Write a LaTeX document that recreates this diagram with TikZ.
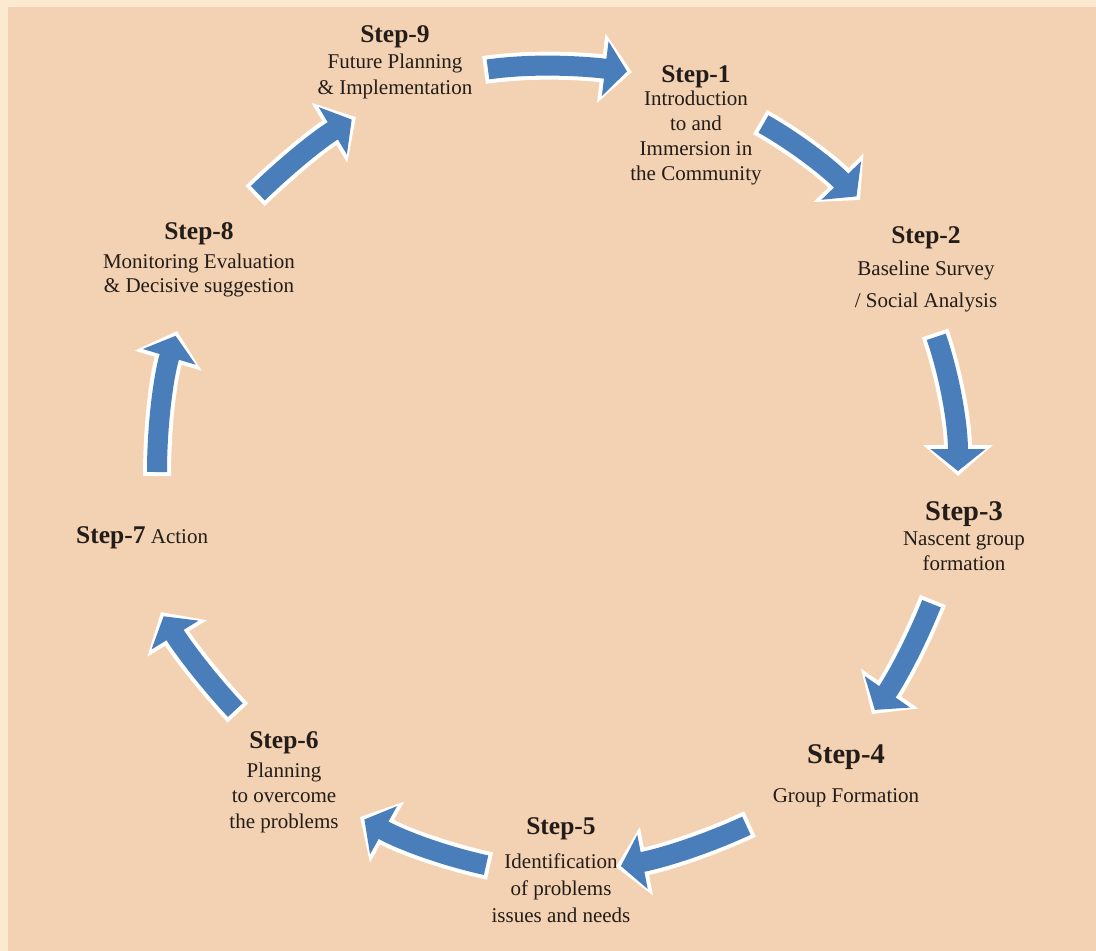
\documentclass[tikz,border=0pt]{standalone}
\usepackage{fontspec}
\setmainfont{Liberation Serif}
\usetikzlibrary{arrows.meta}
\definecolor{cream}{RGB}{251,234,208}
\definecolor{peach}{RGB}{242,210,178}
\definecolor{arrowblue}{RGB}{74,126,187}
\definecolor{ink}{RGB}{35,28,24}
\tikzset{
  steptext/.style={anchor=base, inner sep=0pt, text=ink},
  arrowback/.style={draw=white, line width=28pt, -{Triangle[length=31pt,width=68pt]}},
  arrowfront/.style={draw=arrowblue, line width=20pt, shorten <=4pt, shorten >=5pt,
    -{Triangle[length=22pt,width=54pt]}}
}
\newcommand\cyclearrow[4]{%
  \draw[arrowback] (#1) .. controls (#2) and (#3) .. (#4);
  \draw[arrowfront] (#1) .. controls (#2) and (#3) .. (#4);}
\newcommand\ttl[2][25.5]{{\bfseries\fontsize{#1}{26}\selectfont #2}}
\begin{document}
\begin{tikzpicture}[x=1pt,y=-1pt]
\fill[cream] (0,0) rectangle (1096,951);
\fill[peach] (8,7) rectangle (1096,951);
\useasboundingbox (0,0) rectangle (1096,951);

% step labels
\node[steptext, font=\fontsize{21}{26.5}\selectfont] (s9) at (395,42)
  {\begin{tabular}[t]{@{}c@{}}\ttl{Step-9}\\[-0.5pt] Future Planning\\ \& Implementation\end{tabular}};
\node[steptext, font=\fontsize{21}{25}\selectfont] (s1) at (696,82)
  {\begin{tabular}[t]{@{}c@{}}\ttl{Step-1}\\[-2pt] Introduction\\ to and\\ Immersion in\\ the Community\end{tabular}};
\node[steptext, font=\fontsize{21}{32}\selectfont] (s2) at (926,243)
  {\begin{tabular}[t]{@{}c@{}}\ttl{Step-2}\\ Baseline Survey\\ / Social Analysis\end{tabular}};
\node[steptext, font=\fontsize{21}{25}\selectfont] (s3) at (964,520)
  {\begin{tabular}[t]{@{}c@{}}\ttl[28.5]{Step-3}\\[0pt] Nascent group\\ formation\end{tabular}};
\node[steptext, font=\fontsize{21}{25}\selectfont] (s4) at (846,763)
  {\begin{tabular}[t]{@{}c@{}}\ttl[28.5]{Step-4}\\[14pt] Group Formation\end{tabular}};
\node[steptext, font=\fontsize{21}{27}\selectfont] (s5) at (561,834)
  {\begin{tabular}[t]{@{}c@{}}\ttl{Step-5}\\[7pt] Identification\\ of problems\\ issues and needs\end{tabular}};
\node[steptext, font=\fontsize{21}{25.5}\selectfont] (s6) at (284,748)
  {\begin{tabular}[t]{@{}c@{}}\ttl{Step-6}\\[3.5pt] Planning\\ to overcome\\ the problems\end{tabular}};
\node[steptext, anchor=base west, font=\fontsize{21}{25}\selectfont] (s7) at (76,543)
  {\ttl{Step-7} Action};
\node[steptext, font=\fontsize{21}{24}\selectfont] (s8) at (199,239)
  {\begin{tabular}[t]{@{}c@{}}\ttl{Step-8}\\[5pt] Monitoring Evaluation\\ \& Decisive suggestion\end{tabular}};

% arrow end points and control points
\coordinate (a1s) at (484,70);  \coordinate (a1p) at (533,63);  \coordinate (a1q) at (583,66);  \coordinate (a1e) at (632,72);
\coordinate (a2s) at (760,122); \coordinate (a2p) at (797,143); \coordinate (a2q) at (830,169); \coordinate (a2e) at (860,200);
\coordinate (a3s) at (935,333); \coordinate (a3p) at (951,380); \coordinate (a3q) at (958,427); \coordinate (a3e) at (958,476);
\coordinate (a4s) at (933,600); \coordinate (a4p) at (917,640); \coordinate (a4q) at (897,678); \coordinate (a4e) at (872,714);
\coordinate (a5s) at (750,824); \coordinate (a5p) at (707,844); \coordinate (a5q) at (663,858); \coordinate (a5e) at (616,867);
\coordinate (a6s) at (490,866); \coordinate (a6p) at (444,856); \coordinate (a6q) at (401,840); \coordinate (a6e) at (360,817);
\coordinate (a7s) at (238,713); \coordinate (a7p) at (209,682); \coordinate (a7q) at (183,648); \coordinate (a7e) at (161,612);
\coordinate (a8s) at (157,476); \coordinate (a8p) at (157,427); \coordinate (a8q) at (163,378); \coordinate (a8e) at (177,331);
\coordinate (a9s) at (255,196); \coordinate (a9p) at (286,166); \coordinate (a9q) at (319,139); \coordinate (a9e) at (356,117);

\cyclearrow{a1s}{a1p}{a1q}{a1e}
\cyclearrow{a2s}{a2p}{a2q}{a2e}
\cyclearrow{a3s}{a3p}{a3q}{a3e}
\cyclearrow{a4s}{a4p}{a4q}{a4e}
\cyclearrow{a5s}{a5p}{a5q}{a5e}
\cyclearrow{a6s}{a6p}{a6q}{a6e}
\cyclearrow{a7s}{a7p}{a7q}{a7e}
\cyclearrow{a8s}{a8p}{a8q}{a8e}
\cyclearrow{a9s}{a9p}{a9q}{a9e}
\end{tikzpicture}
\end{document}
